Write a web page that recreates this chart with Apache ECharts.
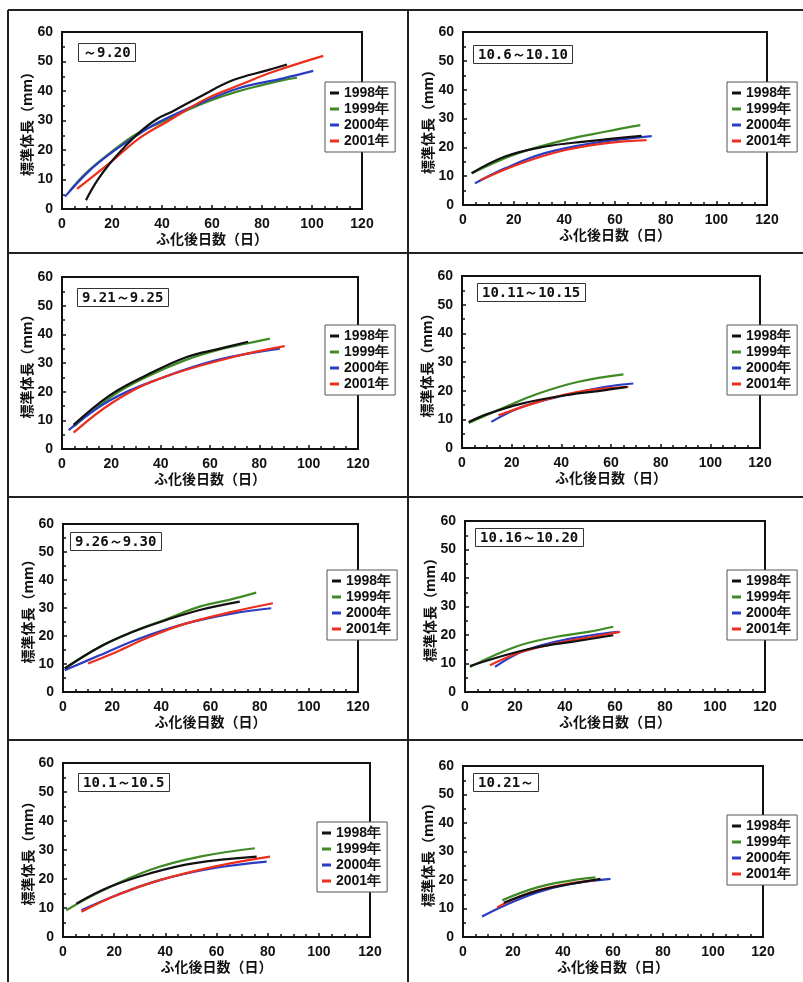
<!DOCTYPE html>
<html>
<head>
<meta charset="utf-8">
<script src="https://cdn.jsdelivr.net/npm/echarts@6/dist/echarts.min.js"></script>
<style>
  html, body { margin: 0; padding: 0; background: #fff; }
  #app { width: 803px; height: 982px; }
</style>
</head>
<body>
<div id="app"></div>
<script>
// 年ごとの凡例
const years = ['1998年', '1999年', '2000年', '2001年']
const yearColors = ['#111111', '#3f8a24', '#2b3cc4', '#ec2f1c']
const panelLabels = ['～9.20', '10.6～10.10', '9.21～9.25', '10.11～10.15', '9.26～9.30', '10.16～10.20', '10.1～10.5', '10.21～']
const xTicks = [0, 20, 40, 60, 80, 100, 120]
const yTicks = [0, 10, 20, 30, 40, 50, 60]

// [ふ化後日数, 標準体長] 図から読み取り
// ～9.20
const p1_1998 = [[9.6, 3], [14, 9.5], [19.2, 15.5], [25, 21], [31, 26], [38, 30.5], [44, 33], [55, 38], [68.5, 43.7], [82, 47], [90, 49]]
const p1_1999 = [[3, 6], [10, 12.5], [20, 19.5], [30, 25.5], [40, 29.5], [50, 33.5], [60, 37], [70, 39.8], [80, 42], [88, 43.6], [94, 44.5]]
const p1_2000 = [[1.2, 4.2], [11, 13], [20.5, 19.5], [30, 25], [39, 29.6], [55, 35.8], [71, 41], [88.5, 44.3], [100.5, 46.8]]
const p1_2001 = [[6, 6.8], [20.5, 16.6], [31, 24], [42, 29.6], [58, 37.5], [71, 42], [84.5, 46.5], [104.5, 51.9]]
// 10.6～10.10
const p2_1998 = [[3.4, 11], [16.6, 16.8], [32, 20.2], [48, 22], [70.5, 24]]
const p2_1999 = [[3.4, 11], [12, 14.5], [21.8, 18], [40, 22.5], [56, 25.4], [70, 27.7]]
const p2_2000 = [[4.7, 7.5], [16.6, 12.7], [32, 17.9], [50.8, 21.4], [74.5, 23.9]]
const p2_2001 = [[7, 8.7], [23, 14.5], [40, 19], [56, 21.4], [72.5, 22.5]]
// 9.21～9.25
const p3_1998 = [[4.7, 8.4], [19.5, 18.8], [34.4, 25.8], [50.6, 32.1], [64, 35], [75.5, 37.4]]
const p3_1999 = [[5, 8], [20, 18.3], [34.4, 25.2], [50, 31], [64, 34.7], [75, 36.8], [84.3, 38.5]]
const p3_2000 = [[2.7, 6.6], [19.5, 17], [39.8, 24.6], [62.7, 31], [88.3, 35]]
const p3_2001 = [[4.7, 5.7], [21, 16.5], [39.8, 24.6], [69.4, 32.1], [90.3, 35.9]]
// 10.11～10.15
const p4_1998 = [[2.7, 9.1], [10.7, 12], [24.1, 15.5], [41.6, 18.4], [57.7, 20.2], [66.4, 21.3]]
const p4_1999 = [[2.7, 8.7], [17.4, 14.3], [30.8, 19], [46.9, 23.1], [65, 25.7]]
const p4_2000 = [[11.8, 9.1], [24.1, 14.3], [41.6, 18.4], [57.7, 21.3], [69, 22.5]]
const p4_2001 = [[14.7, 11.4], [30.8, 16.1], [46.9, 19.6], [67, 21.3]]
// 9.26～9.30
const p5_1998 = [[0.7, 8.4], [14.9, 16.1], [28.5, 21.5], [42, 25.7], [55.6, 29.3], [71.9, 32.3]]
const p5_1999 = [[0.7, 8.4], [14.9, 16.1], [28.5, 21.6], [42, 26], [55.6, 30.5], [68, 33], [78.6, 35.5]]
const p5_2000 = [[0.7, 7.8], [14.9, 13.1], [31.2, 19.1], [50.2, 24.5], [69.2, 28.1], [84.7, 29.9]]
const p5_2001 = [[10.2, 10.2], [21.7, 14.3], [35.3, 19.7], [50.2, 24.5], [69.2, 28.7], [85.4, 31.7]]
// 10.16～10.20
const p6_1998 = [[2, 9.1], [16, 12.9], [29.3, 15.8], [42.7, 17.6], [59.3, 19.9]]
const p6_1999 = [[2, 8.8], [20, 15.8], [36, 19.3], [49.3, 21.1], [59.3, 22.9]]
const p6_2000 = [[12, 8.8], [22.7, 14.1], [36, 17.6], [50.7, 19.9], [61.3, 21.1]]
const p6_2001 = [[10, 9.4], [22.7, 14.1], [36, 17], [50.7, 19.3], [62, 21.1]]
// 10.1～10.5
const p7_1998 = [[5.2, 11.5], [18.3, 17.3], [33.9, 21.9], [50.9, 25.4], [75.7, 27.7]]
const p7_1999 = [[1.3, 9.2], [14.3, 15.5], [33.9, 23.1], [53.5, 27.7], [75, 30.6]]
const p7_2000 = [[7.2, 9.2], [20.9, 14.4], [37.8, 19.6], [58.7, 23.7], [79.6, 26]]
const p7_2001 = [[7.2, 8.7], [20.9, 14.4], [37.8, 19.6], [58.7, 24.2], [80.9, 27.7]]
// 10.21～
const p8_1998 = [[16.3, 12], [29.7, 16.2], [43, 18.6], [55, 20.4]]
const p8_1999 = [[15.7, 12.9], [29.7, 17.4], [43, 19.8], [53, 20.9]]
const p8_2000 = [[7.6, 7.2], [16.3, 10.9], [29.7, 15.6], [43, 18.6], [59, 20.4]]
const p8_2001 = [[13.6, 10.4], [27, 15.6], [43, 18.8], [52.4, 19.8]]

const panelData = [
  [p1_1998, p1_1999, p1_2000, p1_2001],
  [p2_1998, p2_1999, p2_2000, p2_2001],
  [p3_1998, p3_1999, p3_2000, p3_2001],
  [p4_1998, p4_1999, p4_2000, p4_2001],
  [p5_1998, p5_1999, p5_2000, p5_2001],
  [p6_1998, p6_1999, p6_2000, p6_2001],
  [p7_1998, p7_1999, p7_2000, p7_2001],
  [p8_1998, p8_1999, p8_2000, p8_2001],
]

// レイアウト (px)
const grids = [
  { left: 62, top: 32, width: 300, height: 177 },
  { left: 463, top: 32, width: 304, height: 173 },
  { left: 62, top: 277, width: 296, height: 172 },
  { left: 462, top: 276, width: 298, height: 172 },
  { left: 63, top: 524, width: 295, height: 168 },
  { left: 465, top: 521, width: 300, height: 171 },
  { left: 63, top: 763, width: 307, height: 174 },
  { left: 463, top: 766, width: 300, height: 171 },
]
const legendPos = [[325, 82], [727, 82], [325, 325], [727, 325], [327, 570], [727, 570], [317, 822], [727, 815]]
const labelPos = [[78, 43], [473, 45], [77, 288], [477, 283], [70, 532], [475, 528], [78, 773], [473, 773]]

const tickFont = { color: '#111', fontSize: 14, fontWeight: 'bold', fontFamily: 'Liberation Sans' }
const nameFont = { color: '#111', fontSize: 14, fontWeight: 'bold', fontFamily: 'Noto Sans CJK JP' }
const axisLine = { lineStyle: { color: '#111', width: 2 } }

const option = {
  backgroundColor: '#fff',
  animation: false,
  title: [],
  legend: [],
  grid: [],
  xAxis: [],
  yAxis: [],
  series: [],
  graphic: [],
}

// 描画順: 1999, 2000, 2001, 1998(最前面)
const drawOrder = [1, 2, 3, 0]

grids.forEach((g, i) => {
  option.grid.push({
    ...g,
    show: true,
    borderColor: '#111',
    borderWidth: 2,
    backgroundColor: 'transparent',
  })
  option.xAxis.push({
    type: 'value',
    gridIndex: i,
    min: xTicks[0],
    max: xTicks[xTicks.length - 1],
    interval: xTicks[1] - xTicks[0],
    name: 'ふ化後日数（日）',
    nameLocation: 'middle',
    nameGap: 23,
    nameTextStyle: nameFont,
    axisLine,
    axisTick: { inside: true, length: 4, lineStyle: { color: '#111', width: 1.5 } },
    minorTick: { show: true, splitNumber: 4, length: 3, lineStyle: { color: '#111', width: 1.5 } },
    // 0 のラベルが消えることがあるので明示
    axisLabel: { ...tickFont, margin: 8, customValues: xTicks, showMinLabel: true, showMaxLabel: true, hideOverlap: false },
    splitLine: { show: false },
  })
  option.yAxis.push({
    type: 'value',
    gridIndex: i,
    min: yTicks[0],
    max: yTicks[yTicks.length - 1],
    interval: yTicks[1] - yTicks[0],
    name: '標準体長（mm）',
    nameLocation: 'middle',
    nameRotate: 90,
    nameGap: 28,
    nameTextStyle: nameFont,
    axisLine,
    axisTick: { inside: true, length: 4, lineStyle: { color: '#111', width: 1.5 } },
    minorTick: { show: true, splitNumber: 2, length: 3, lineStyle: { color: '#111', width: 1.5 } },
    axisLabel: { ...tickFont, margin: 9, showMinLabel: true, showMaxLabel: true, hideOverlap: false },
    splitLine: { show: false },
  })
  option.title.push({
    text: panelLabels[i],
    left: labelPos[i][0],
    top: labelPos[i][1],
    padding: [3, 5, 2, 5],
    borderColor: '#333',
    borderWidth: 1,
    backgroundColor: '#fff',
    textStyle: { color: '#111', fontSize: 14, fontWeight: 'bold', fontFamily: 'DejaVu Sans Mono' },
  })
  option.legend.push({
    data: years,
    orient: 'vertical',
    left: legendPos[i][0],
    top: legendPos[i][1],
    padding: [4, 6, 4, 5],
    itemGap: 2,
    itemWidth: 9,
    itemHeight: 3,
    icon: 'rect',
    backgroundColor: '#fff',
    borderColor: '#555',
    borderWidth: 1,
    selectedMode: false,
    z: 10,
    textStyle: { ...tickFont, lineHeight: 14 },
  })
  drawOrder.forEach((k) => {
    option.series.push({
      name: years[k],
      type: 'line',
      xAxisIndex: i,
      yAxisIndex: i,
      data: panelData[i][k],
      smooth: 0.4,
      showSymbol: false,
      color: yearColors[k],
      lineStyle: { width: 2.2, color: yearColors[k] },
    })
  })
})

// パネルの枠線
const frame = { stroke: '#222', lineWidth: 2 }
option.graphic = [
  { type: 'line', shape: { x1: 8, y1: 10, x2: 803, y2: 10 }, style: frame },
  { type: 'line', shape: { x1: 8, y1: 10, x2: 8, y2: 982 }, style: frame },
  { type: 'line', shape: { x1: 408, y1: 10, x2: 408, y2: 982 }, style: frame },
  { type: 'line', shape: { x1: 8, y1: 253, x2: 803, y2: 253 }, style: frame },
  { type: 'line', shape: { x1: 8, y1: 497, x2: 803, y2: 497 }, style: frame },
  { type: 'line', shape: { x1: 8, y1: 740, x2: 803, y2: 740 }, style: frame },
]

const myChart = echarts.init(document.getElementById('app'), null, { renderer: 'canvas' })
myChart.setOption(option)
</script>
</body>
</html>
